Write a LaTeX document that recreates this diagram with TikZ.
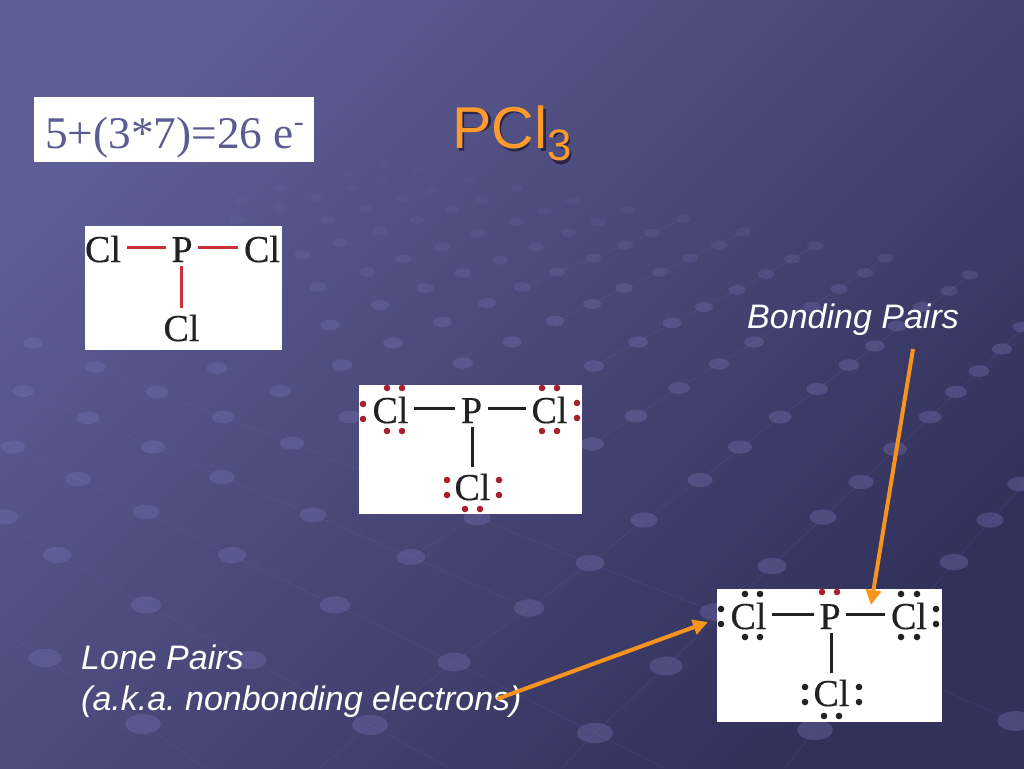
\documentclass[tikz,border=0pt]{standalone}
\usepackage{fontspec}
\setmainfont{Liberation Serif}
\setsansfont{Liberation Sans}
\newfontfamily\atomfont[FakeBold=0.4]{Liberation Serif}
\usetikzlibrary{arrows.meta}
\definecolor{bgA}{HTML}{5D5D95}
\definecolor{bgB}{HTML}{4B4B7C}
\definecolor{bgC}{HTML}{32315A}
\definecolor{orangeT}{HTML}{FF9A2E}
\definecolor{orangeL}{HTML}{F7941E}
\definecolor{slateT}{HTML}{5C5B92}
\definecolor{inkT}{HTML}{222222}
\definecolor{redB}{HTML}{C8303A}
\definecolor{redD}{HTML}{A82030}
\definecolor{dotB}{HTML}{7474B4}
\definecolor{shadeT}{HTML}{1E1D38}
\tikzset{
  x=1pt,y=-1pt,
  panel/.style={fill=white,draw=none},
  atom/.style={font=\atomfont\fontsize{38}{38}\selectfont,text=inkT,anchor=base,inner xsep=5.5pt,inner ysep=4pt,text height=29pt,text depth=0pt},
  bondB/.style={draw=inkT,line width=2.2pt},
  bondR/.style={draw=redB,line width=2.4pt},
  gridline/.style={draw=dotB,opacity=.16,line width=.8pt},
  label/.style={font=\sffamily\itshape\fontsize{34}{34}\selectfont,text=white,anchor=base west,inner sep=0pt},
  pointer/.style={draw=orangeL,line width=4pt,-{Triangle[length=15pt,width=15pt]}},
  glyphshade/.style={draw=shadeT,line width=5pt,opacity=.8}
}
\newcommand{\dotsat}[2]{\foreach \px/\py in {#2}{\fill[#1] (\px,\py) circle (3.3pt);}}
\begin{document}
\frenchspacing
\begin{tikzpicture}
\useasboundingbox (0,0) rectangle (1024,768);
\shade[top color=bgA,middle color=bgB,bottom color=bgC,shading angle=45] (0,0) rectangle (1024,768);
% background grid
\foreach \pts in {
 {(562,768) -- (595,733) -- (666,666) -- (772,566) -- (861,482) -- (930,417) -- (979,371) -- (1024,327)},
 {(785,768) -- (815,730) -- (954,562) -- (1024,484)},
 {(320,768) -- (370,725) -- (454,662) -- (529,608) -- (590,563) -- (644,520) -- (700,480) -- (780,417) -- (875,346) -- (970,275)},
 {(411,557) -- (592,444) -- (679,388) -- (754,342) -- (839,289) -- (885,258)},
 {(594,366) -- (672,323) -- (737,290) -- (815,246)},
 {(555,321) -- (624,288) -- (690,258) -- (743,232)},
 {(522,287) -- (593,258) -- (652,233) -- (683,219)},
 {(0,440) -- (78,479) -- (146,512) -- (232,555) -- (335,605) -- (454,662) -- (595,733) -- (665,768)},
 {(0,517) -- (57,555) -- (146,605) -- (250,660) -- (370,725) -- (450,768)},
 {(0,630) -- (45,658) -- (143,724) -- (205,768)},
 {(23,391) -- (88,418) -- (153,447) -- (222,477) -- (313,515) -- (411,557) -- (529,608)},
 {(477,518) -- (590,563) -- (715,612)},
 {(942,690) -- (1024,725)},
 {(33,343) -- (95,367) -- (157,392) -- (223,417) -- (292,443) -- (359,470)}
}{\path[gridline] \pts;}
\foreach \sx/\sy in {33/343,95/367,217/368,342/365,463/363,23/391,157/392,280/391,88/418,223/417,350/417,13/447,153/447,292/443,
330/325,442/322,393/343,512/342,380/305,487/303,318/287,425/288,367/272,463/273,302/255,403/259,500/260,340/243,442/247,380/231,478/233,328/220,417/220,367/209,452/209,317/198,402/198,483/200,280/188,353/188,433/190,383/181,470/180,347/173,418/170,385/164,237/220,242/200,280/208,
517/188,573/201,545/211,627/210,517/222,598/222,569/233,683/219,652/233,536/247,625/245,743/232,719/245,593/258,690/258,815/246,792/259,885/258,557/272,660/272,766/274,865/273,970/275,522/287,624/288,737/290,839/289,949/291,592/304,704/307,812/307,922/307,555/321,672/323,897/326,1022/327,638/342,754/342,875/346,1002/349,594/366,719/364,849/365,979/371,679/388,817/389,956/392,636/416,780/417,930/417,592/444,740/447,895/449,
78/479,222/477,5/517,146/512,313/515,477/518,57/555,232/555,411/557,146/605,335/605,45/658,250/660,454/662,143/724,370/725,
700/480,861/482,1020/484,644/520,823/517,990/520,590/563,772/566,954/562,529/608,715/612,666/666,595/733,815/730,1015/721}{
  \pgfmathsetmacro\rx{6+(\sy-160)*0.021}
  \pgfmathsetmacro\ry{\rx*0.56}
  \pgfmathsetmacro\op{0.36*min(1,max(0.2,(\sy-130)/200))}
  \fill[dotB,opacity=\op] (\sx,\sy) ellipse [x radius=\rx pt, y radius=\ry pt];
}
% count box
\path[panel] (34,97) rectangle (314,162);
\node[anchor=base west,inner sep=0pt,text=slateT,font=\fontsize{45.3}{45}\selectfont] (count) at (45,148) {5+(3*7)=26 e\raisebox{17pt}{\fontsize{30}{30}\selectfont -}};
% title: drop shadow drawn as strokes under the letters
\begin{scope}[shift={(2.5,2.5)}]
  \path[glyphshade] (459,148) -- (459,109) -- (475,109) .. controls (490,109) and (490,127) .. (475,127) -- (459,127);
  \path[glyphshade] plot[smooth,domain=40:320,samples=40] ({512.5+16.5*cos(\x)},{127+19.5*sin(\x)});
  \path[glyphshade] (540.5,106) -- (540.5,148);
  \path[glyphshade,line width=3.6pt] plot[smooth,domain=200:450,samples=30] ({558+7.5*cos(\x)},{137+7.5*sin(\x)});
  \path[glyphshade,line width=3.6pt] plot[smooth,domain=-90:170,samples=30] ({558.5+8.5*cos(\x)},{152+8*sin(\x)});
\end{scope}
\node[anchor=base west,inner sep=0pt,text=orangeT,font=\sffamily\fontsize{59}{59}\selectfont] (title) at (452,148) {PCl\raisebox{-12pt}{\fontsize{44}{44}\selectfont 3}};
% molecule 1
\path[panel] (85,226) rectangle (282,350);
\node[atom] (a1) at (103,262) {Cl};
\node[atom] (p1) at (182,262) {P};
\node[atom] (b1) at (262,262) {Cl};
\node[atom] (c1) at (181.5,341) {Cl};
\draw[bondR] (a1) -- (p1);
\draw[bondR] (p1) -- (b1);
\draw[bondR] (c1 |- p1.south) -- (c1.north);
% molecule 2
\path[panel] (359,385) rectangle (582,514);
\node[atom] (a2) at (390.5,423) {Cl};
\node[atom] (p2) at (471.5,423) {P};
\node[atom] (b2) at (549.5,423) {Cl};
\node[atom] (c2) at (472.5,500) {Cl};
\draw[bondB] (a2) -- (p2);
\draw[bondB] (p2) -- (b2);
\draw[bondB] (c2 |- p2.south) -- (c2.north);
\dotsat{redD}{387/388,402/388,363/404,363/419,387/431,402/431,542/388,557/388,577/403,577/418,542/431,557/431,447/480,447/495,499/480,499/495,465/509,480/509}
% molecule 3
\path[panel] (717,589) rectangle (942,722);
\node[atom] (a3) at (748.5,629) {Cl};
\node[atom] (p3) at (830,629) {P};
\node[atom] (b3) at (909,629) {Cl};
\node[atom] (c3) at (831.5,706) {Cl};
\draw[bondB] (a3) -- (p3);
\draw[bondB] (p3) -- (b3);
\draw[bondB] (c3 |- p3.south) -- (c3.north);
\dotsat{inkT}{745/594,760/594,721/609,721/624,745/637,760/637,901/594,917/594,936/609,936/624,901/637,917/637,805/687,805/702,859/687,859/702,824/716,839/716}
\dotsat{redD}{822/592,837/592}
% labels
\node[label] (bonding) at (747,328) {Bonding Pairs};
\node[label] (lone) at (81,669) {Lone Pairs};
\node[label] (aka) at (81,710) {(a.k.a. nonbonding electrons)};
% arrows
\coordinate (bondStart) at (913,349);
\coordinate (bondTip) at (871,605);
\coordinate (loneStart) at (497,699);
\coordinate (loneTip) at (708,622);
\draw[pointer] (bondStart) -- (bondTip);
\draw[pointer] (loneStart) -- (loneTip);
\end{tikzpicture}
\end{document}
